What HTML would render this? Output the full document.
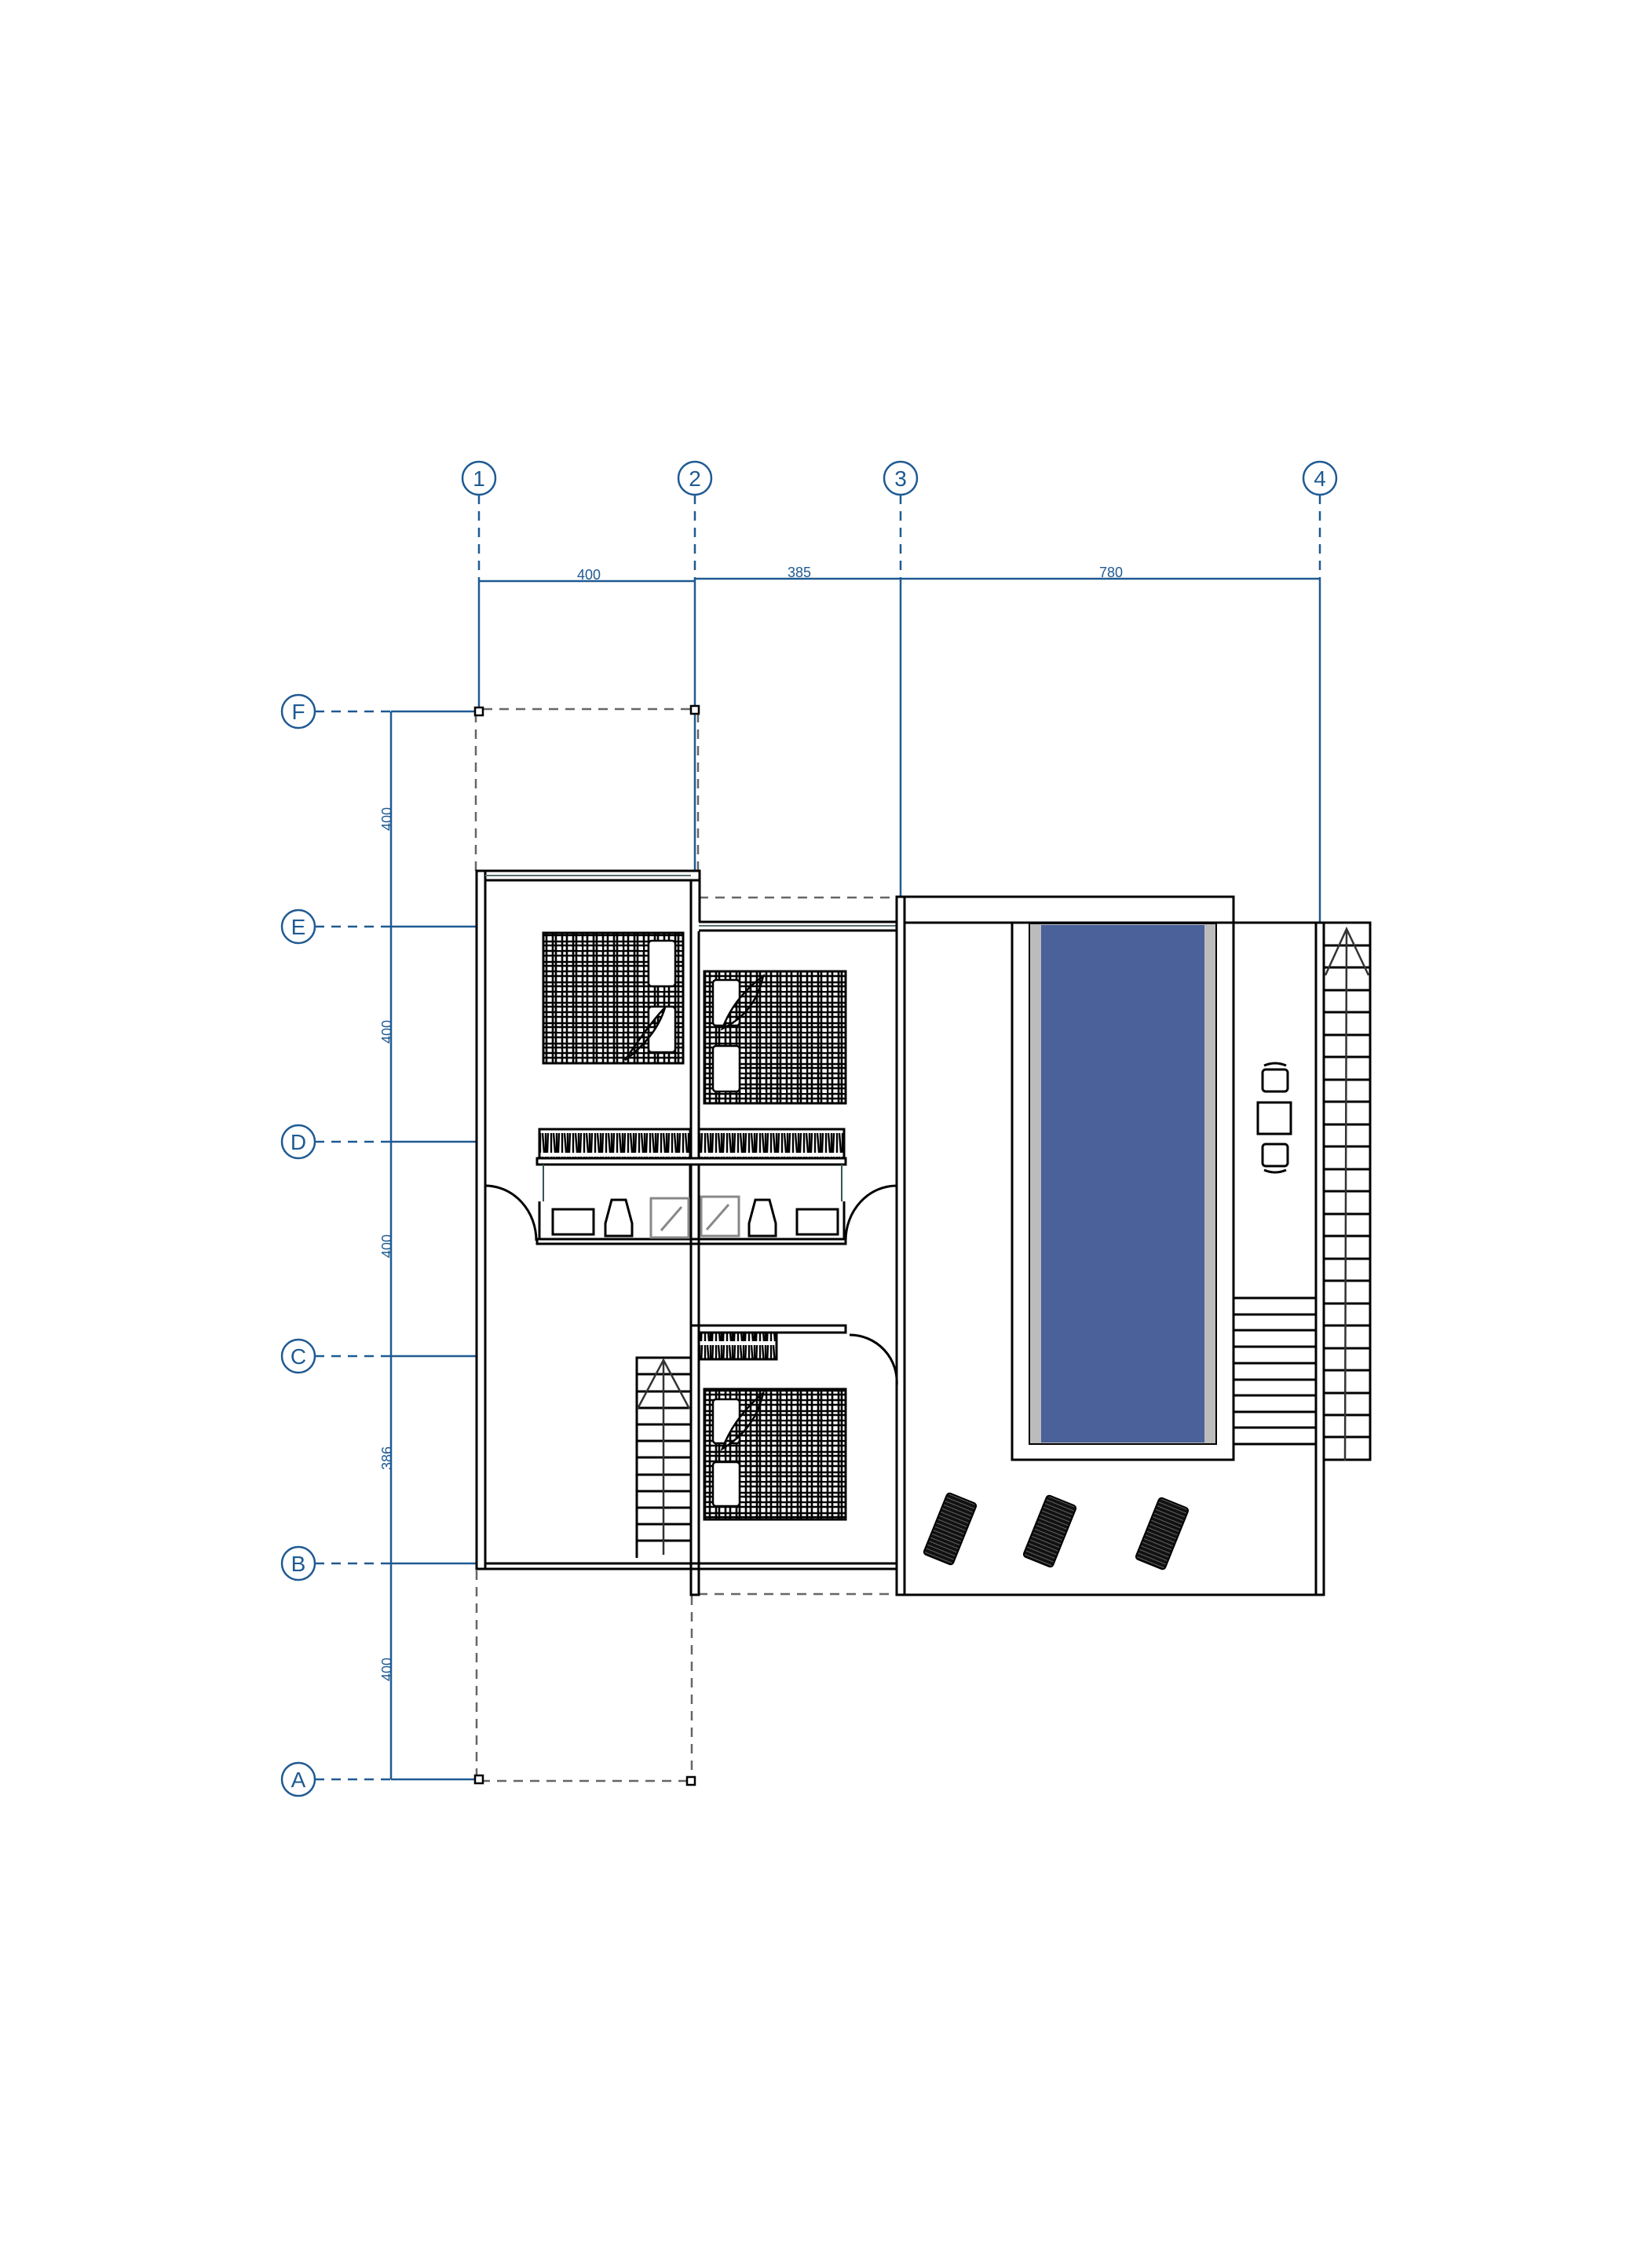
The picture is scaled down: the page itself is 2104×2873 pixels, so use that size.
<!DOCTYPE html>
<html><head><meta charset="utf-8"><style>html,body{margin:0;padding:0;background:#fff}svg{display:block}</style></head>
<body>
<svg width="2104" height="2873" viewBox="0 0 2104 2873" xmlns="http://www.w3.org/2000/svg" font-family="Liberation Sans, sans-serif">
<defs>
<pattern id="bed" width="26" height="26" patternUnits="userSpaceOnUse">
<rect width="26" height="26" fill="#fff"/>
<path d="M2 0V26M6 0V26M14 0V26M20 0V26M0 3H26M0 8H26M0 15H26M0 21H26" stroke="#000" stroke-width="2.6"/>
<rect x="8" y="10" width="5" height="4" fill="#fff"/>
</pattern>
<pattern id="ward" width="14" height="30" patternUnits="userSpaceOnUse">
<rect width="14" height="30" fill="#fff"/>
<path d="M2 3V28M5 3L7 28M9 3V28M12 3L11 28" stroke="#000" stroke-width="2.4"/>
</pattern>
<pattern id="lng" width="10" height="5" patternUnits="userSpaceOnUse">
<rect width="10" height="5" fill="#111"/><path d="M0 4.5H10" stroke="#777" stroke-width="0.8"/>
</pattern>
</defs>

<g stroke="#1f5a92" stroke-width="2.5" fill="#fff">
<circle cx="610" cy="609" r="21"/><circle cx="885" cy="609" r="21"/><circle cx="1147" cy="609" r="21"/><circle cx="1681" cy="609" r="21"/>
<circle cx="380" cy="906" r="21"/><circle cx="380" cy="1180" r="21"/><circle cx="380" cy="1454" r="21"/><circle cx="380" cy="1727" r="21"/><circle cx="380" cy="1991" r="21"/><circle cx="380" cy="2266" r="21"/>
</g>
<g fill="#1f5a92" font-size="28" text-anchor="middle">
<text x="610" y="619">1</text><text x="885" y="619">2</text><text x="1147" y="619">3</text><text x="1681" y="619">4</text>
<text x="380" y="916">F</text><text x="380" y="1190">E</text><text x="380" y="1464">D</text><text x="380" y="1737">C</text><text x="380" y="2001">B</text><text x="380" y="2276">A</text>
</g>
<g stroke="#1f5a92" stroke-width="2.5" stroke-dasharray="12 9" fill="none">
<path d="M610 630V738M885 630V738M1147 630V736M1681 630V736"/>
<path d="M401 906H498M401 1180H498M401 1454H498M401 1727H498M401 1991H498M401 2266H498"/>
</g>
<g stroke="#1f5a92" stroke-width="2.5" fill="none">
<path d="M610 740H885M885 737H1681M610 738V906M885 737V1109M1147 736V1142M1681 736V1176"/>
<path d="M498 906V2266M498 906H608M498 1180H606M498 1454H606M498 1727H606M498 1991H606M498 2266H606"/>
</g>
<g fill="#1f5a92" font-size="18" text-anchor="middle">
<text x="750" y="738">400</text><text x="1018" y="735">385</text><text x="1415" y="735">780</text>
<text transform="translate(499 1043) rotate(-90)">400</text>
<text transform="translate(499 1314) rotate(-90)">400</text>
<text transform="translate(499 1587) rotate(-90)">400</text>
<text transform="translate(499 1857) rotate(-90)">386</text>
<text transform="translate(499 2126) rotate(-90)">400</text>
</g>

<g stroke="#666" stroke-width="2.5" stroke-dasharray="12 9" fill="none">
<path d="M615 903H882M606 908V1109M889 908V1109M890 1143H1142M607 2000V2268H881M881 2032V2268M889 2030H1142"/>
</g>
<g fill="#fff" stroke="#000" stroke-width="2.5">
<rect x="605" y="901" width="10" height="10"/><rect x="880" y="899" width="10" height="10"/>
<rect x="605" y="2261" width="10" height="10"/><rect x="875" y="2263" width="10" height="10"/>
</g>

<g stroke="#000" stroke-width="3" fill="none">
<rect x="607" y="1109" width="11" height="889"/>
<path d="M607 1109H891V1121H618M880 1121V2031H890V1186M891 1109V1174"/>
<path d="M618 1115H880" stroke="#5a6f6f" stroke-width="2"/>
<path d="M890 1174H1142V1185H890"/><path d="M890 1179H1142" stroke="#5a6f6f" stroke-width="2"/>
<path d="M618 1991H1142M618 1998H1142"/>
<rect x="1142" y="1142" width="10" height="889"/>
<path d="M1152 1142H1571V1175M1152 1175H1745M1152 2031H1686V1175M1676 1175V2031"/>
<path d="M890 1697H1077V1688H880"/>
<rect x="1289" y="1175" width="282" height="684"/>
</g>
<rect x="1311" y="1176" width="238" height="663" fill="#bcbcbc" stroke="#000" stroke-width="2"/>
<rect x="1326" y="1178" width="208" height="659" fill="#4a6199"/>

<g stroke="#000" stroke-width="3" fill="none">
<rect x="1686" y="1175" width="59" height="684"/>
<path d="M1686 1204H1745M1686 1232H1745M1686 1261H1745M1686 1289H1745M1686 1318H1745M1686 1346H1745M1686 1375H1745M1686 1403H1745M1686 1432H1745M1686 1460H1745M1686 1489H1745M1686 1517H1745M1686 1546H1745M1686 1574H1745M1686 1603H1745M1686 1631H1745M1686 1660H1745M1686 1688H1745M1686 1717H1745M1686 1745H1745M1686 1774H1745M1686 1802H1745M1686 1830H1745"/>
<rect x="1571" y="1653" width="105" height="186"/>
<path d="M1571 1674H1676M1571 1694H1676M1571 1715H1676M1571 1736H1676M1571 1757H1676M1571 1777H1676M1571 1798H1676M1571 1818H1676"/>
</g>
<path d="M1713 1860L1715 1183M1688 1242L1715 1183L1743 1242" stroke="#333" stroke-width="2.5" fill="none"/>
<g stroke="#000" stroke-width="3" fill="#fff">
<rect x="1608" y="1362" width="32" height="28" rx="4"/><path d="M1610 1357Q1624 1351 1638 1357"/>
<rect x="1602" y="1404" width="42" height="40"/>
<rect x="1608" y="1457" width="32" height="28" rx="4"/><path d="M1610 1490Q1624 1496 1638 1490"/>
</g>

<g stroke="#000" stroke-width="3" fill="none">
<path d="M811 1984V1729H880M811 1750H880M811 1772H880M811 1793H880M811 1814H880M811 1835H880M811 1856H880M811 1878H880M811 1899H880M811 1920H880M811 1941H880M811 1962H880"/>
</g>
<path d="M845 1980V1732M812 1794L845 1732L878 1794" stroke="#333" stroke-width="2.5" fill="none"/>

<g stroke="#000" stroke-width="3">
<rect x="692" y="1188" width="178" height="166" fill="url(#bed)"/>
<rect x="897" y="1237" width="180" height="168" fill="url(#bed)"/>
<rect x="897" y="1769" width="180" height="166" fill="url(#bed)"/>
</g>
<g stroke="#000" stroke-width="2.5" fill="#fff">
<rect x="826" y="1198" width="34" height="58" rx="4"/><rect x="826" y="1282" width="34" height="58" rx="4"/>
<path d="M796 1350Q830 1300 847 1283Q836 1320 796 1350Z" fill="url(#bed)"/>
<rect x="908" y="1248" width="34" height="58" rx="4"/><rect x="908" y="1332" width="34" height="58" rx="4"/>
<path d="M920 1310Q935 1270 972 1243Q962 1290 920 1310Z" fill="url(#bed)"/>
<rect x="908" y="1782" width="34" height="56" rx="4"/><rect x="908" y="1862" width="34" height="56" rx="4"/>
<path d="M920 1845Q935 1805 972 1774Q962 1820 920 1845Z" fill="url(#bed)"/>
</g>

<g stroke="#000" stroke-width="3">
<rect x="687" y="1438" width="192" height="37" fill="url(#ward)"/>
<rect x="890" y="1438" width="185" height="37" fill="url(#ward)"/>
<rect x="684" y="1475" width="393" height="8" fill="#fff"/>
<rect x="890" y="1697" width="99" height="34" fill="url(#ward)"/>
</g>
<g stroke="#000" stroke-width="3" fill="none">
<path d="M684 1578H1077V1584H684ZM687 1530V1578M1075 1530V1578M879 1483V1578M890 1483V1578"/>
<path d="M618 1510A65 70 0 0 1 683 1580M1142 1510A65 70 0 0 0 1077 1580M1082 1700A60 60 0 0 1 1142 1765"/>
<rect x="704" y="1540" width="52" height="32" fill="#fff"/><rect x="1015" y="1540" width="52" height="32" fill="#fff"/>
<path d="M779 1528H797L805 1558V1574H771V1558Z"/><path d="M962 1528H980L988 1558V1574H954V1558Z"/>
</g>
<g stroke="#888" stroke-width="3" fill="none">
<rect x="829" y="1526" width="48" height="50"/><path d="M842 1567L868 1537"/>
<rect x="893" y="1524" width="48" height="50"/><path d="M900 1566L928 1534"/>
</g>
<path d="M692 1483V1530M1072 1483V1530" stroke="#3a5555" stroke-width="2"/>

<g stroke="#000" stroke-width="2" fill="url(#lng)">
<rect x="-20" y="-42" width="40" height="84" rx="4" transform="translate(1210 1947) rotate(22)"/>
<rect x="-20" y="-42" width="40" height="84" rx="4" transform="translate(1337 1950) rotate(22)"/>
<rect x="-20" y="-42" width="40" height="84" rx="4" transform="translate(1480 1953) rotate(22)"/>
</g>
</svg>
</body></html>
